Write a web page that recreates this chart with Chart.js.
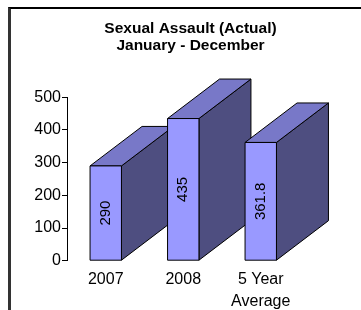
<!DOCTYPE html>
<html lang="en">
<head>
    <meta charset="UTF-8">
    <title>Sexual Assault (Actual)</title>
    <style>
        body {
            margin: 0;
            background: #fff;
            width: 361px;
            height: 310px;
            overflow: hidden;
            position: relative;
        }
        .frame {
            position: absolute;
            left: 8px;
            top: 7px;
            width: 400px;
            height: 400px;
            border-left: 3px solid #333;
            border-top: 2px solid #000;
        }
        canvas {
            position: absolute;
            left: 0;
            top: 0;
        }
    </style>
    <script src="https://cdn.jsdelivr.net/npm/chart.js"></script>
</head>
<body>
    <div class="frame"></div>
    <canvas id="chart" width="361" height="310"></canvas>

    <script>
        // Data
        const categories = ['2007', '2008', ['5 Year', 'Average']];
        const values = [290, 435, 361.8];
        const yTicks = [0, 100, 200, 300, 400, 500];
        const titleLines = ['Sexual Assault (Actual)', 'January - December'];

        const FONT = '"Liberation Sans", Arial, sans-serif';
        const DEPTH_X = 52, DEPTH_Y = -39.5;

        // draws the 3d box faces + rotated value labels
        const boxes3d = {
            id: 'boxes3d',
            afterDatasetsDraw(chart) {
                const ctx = chart.ctx;
                const meta = chart.getDatasetMeta(0);
                ctx.save();
                ctx.lineWidth = 1;
                ctx.strokeStyle = '#000';
                ctx.lineJoin = 'round';
                meta.data.forEach((bar, i) => {
                    const p = bar.getProps(['x', 'y', 'base', 'width'], true);
                    const l = p.x - p.width / 2, r = p.x + p.width / 2;
                    const t = p.y, b = p.base;

                    // side
                    ctx.beginPath();
                    ctx.moveTo(r, t);
                    ctx.lineTo(r + DEPTH_X, t + DEPTH_Y);
                    ctx.lineTo(r + DEPTH_X, b + DEPTH_Y);
                    ctx.lineTo(r, b);
                    ctx.closePath();
                    ctx.fillStyle = '#4E4E80';
                    ctx.fill();
                    ctx.stroke();

                    // top
                    ctx.beginPath();
                    ctx.moveTo(l, t);
                    ctx.lineTo(l + DEPTH_X, t + DEPTH_Y);
                    ctx.lineTo(r + DEPTH_X, t + DEPTH_Y);
                    ctx.lineTo(r, t);
                    ctx.closePath();
                    ctx.fillStyle = '#7878C8';
                    ctx.fill();
                    ctx.stroke();

                    // front
                    ctx.fillStyle = '#9999FF';
                    ctx.fillRect(l, t, r - l, b - t);
                    ctx.strokeRect(l, t, r - l, b - t);

                    // value label
                    ctx.save();
                    ctx.translate(p.x, (t + b) / 2);
                    ctx.rotate(-Math.PI / 2);
                    ctx.fillStyle = '#000';
                    ctx.font = '15px ' + FONT;
                    ctx.textAlign = 'center';
                    ctx.textBaseline = 'middle';
                    ctx.fillText(String(values[i]), 0, 0);
                    ctx.restore();
                });
                ctx.restore();
            },
            afterDraw(chart) {
                const ctx = chart.ctx;
                ctx.save();
                ctx.fillStyle = '#000';
                ctx.font = 'bold 15.5px ' + FONT;
                ctx.textAlign = 'center';
                ctx.textBaseline = 'alphabetic';
                ctx.fillText(titleLines[0], 190.5, 33);
                ctx.fillText(titleLines[1], 190.5, 50);
                ctx.restore();
            }
        };

        new Chart(document.getElementById('chart'), {
            type: 'bar',
            data: {
                labels: categories,
                datasets: [{
                    data: values,
                    backgroundColor: 'rgba(0,0,0,0)',
                    borderWidth: 0,
                    barPercentage: 0.9,
                    categoryPercentage: 0.45
                }]
            },
            options: {
                responsive: false,
                animation: false,
                layout: {
                    padding: { left: 0, right: 61.5, top: 97.3, bottom: 0 }
                },
                plugins: {
                    legend: { display: false },
                    tooltip: { enabled: false },
                    title: { display: false }
                },
                scales: {
                    x: {
                        grid: { display: false },
                        border: { display: false },
                        ticks: {
                            color: '#000',
                            font: { family: FONT, size: 16, lineHeight: 1.35 },
                            padding: 0,
                            maxRotation: 0,
                            autoSkip: false
                        },
                        afterFit(scale) { scale.height = 49.3; }
                    },
                    y: {
                        min: 0,
                        max: 500,
                        afterBuildTicks(scale) {
                            scale.ticks = yTicks.map(v => ({ value: v }));
                        },
                        grid: {
                            drawOnChartArea: false,
                            drawTicks: true,
                            tickLength: 5,
                            color: '#000'
                        },
                        border: { display: true, color: '#000' },
                        ticks: {
                            color: '#000',
                            font: { family: FONT, size: 16 },
                            padding: 1
                        },
                        afterFit(scale) { scale.width = 67; }
                    }
                }
            },
            plugins: [boxes3d]
        });
    </script>
</body>
</html>
